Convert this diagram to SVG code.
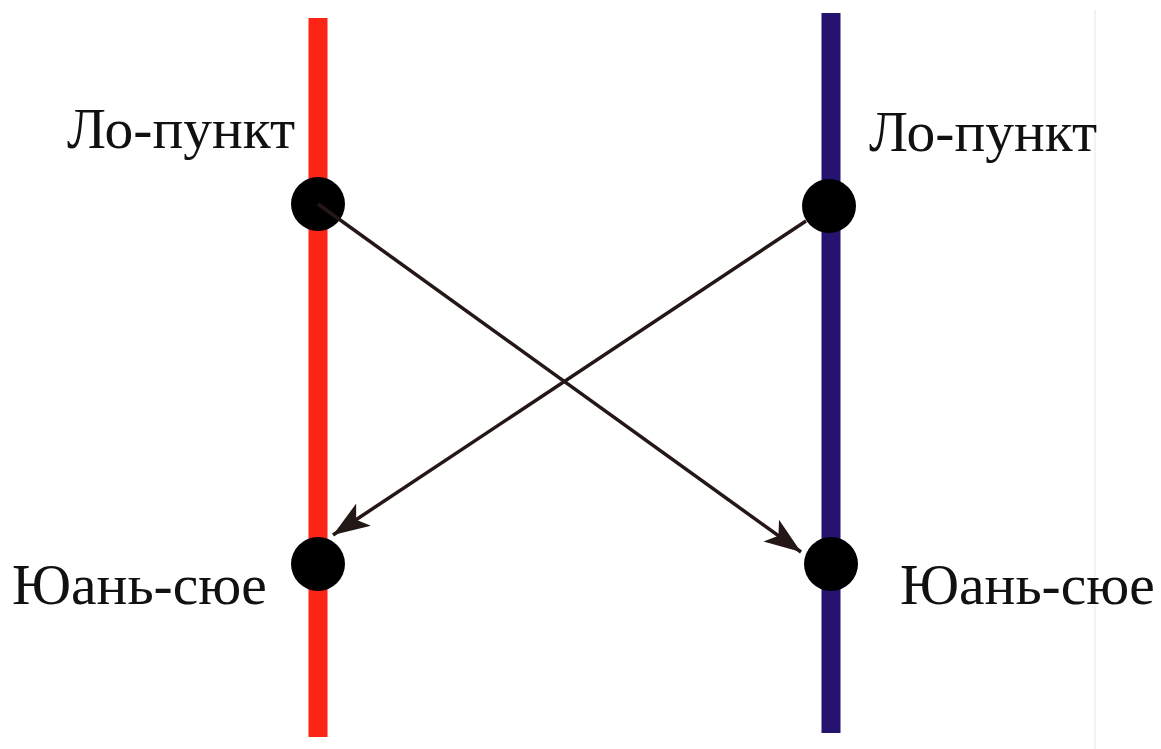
<svg xmlns="http://www.w3.org/2000/svg" width="1161" height="749" viewBox="0 0 1161 749">
  <style>
    .label { font-family: "Liberation Serif", "Times New Roman", serif; font-size: 57.5px; fill: #111; }
    .dot { fill: #000; }
    .link { stroke: #231815; stroke-width: 3.5; fill: none; }
  </style>
  <defs>
    <marker id="head" markerUnits="userSpaceOnUse" markerWidth="40" markerHeight="30" viewBox="-34 -13 36 26" refX="0" refY="0" orient="auto">
      <path d="M0,0 L-33,-12 L-25,0 L-33,12 Z" fill="#231815"/>
    </marker>
  </defs>
  <rect width="1161" height="749" fill="#fff"/>
  <!-- thin divider at the right -->
  <line x1="1095" y1="10" x2="1095" y2="749" stroke="#eeeeee" stroke-width="1.5"/>

  <g id="track-red">
    <rect x="308.5" y="18" width="19" height="719" fill="#fb2416"/>
  </g>
  <g id="track-blue">
    <rect x="821.5" y="13" width="19" height="720" fill="#26136f"/>
  </g>

  <g id="node-left-top">
    <circle class="dot" cx="318" cy="204" r="27"/>
    <text class="label" x="67" y="148">Ло-пункт</text>
  </g>
  <g id="node-right-top">
    <circle class="dot" cx="829" cy="206" r="27"/>
    <text class="label" x="869" y="151">Ло-пункт</text>
  </g>
  <g id="node-left-bottom">
    <circle class="dot" cx="318" cy="564" r="27"/>
    <text class="label" x="12" y="604">Юань-сюе</text>
  </g>
  <g id="node-right-bottom">
    <circle class="dot" cx="831" cy="564" r="27"/>
    <text class="label" x="900" y="604">Юань-сюе</text>
  </g>

  <g id="connectors">
    <line class="link" x1="318" y1="204" x2="801" y2="552" marker-end="url(#head)"/>
    <line class="link" x1="806" y1="221" x2="333" y2="535" marker-end="url(#head)"/>
  </g>
</svg>
